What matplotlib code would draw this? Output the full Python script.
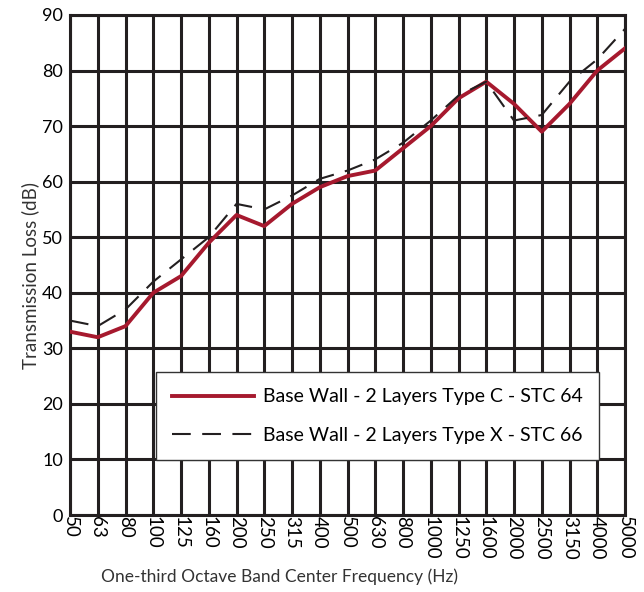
import matplotlib.pyplot as plt
import numpy as np

plt.rcParams['font.family'] = ['Lato', 'DejaVu Sans']

# one-third octave bands
freqs = ['50', '63', '80', '100', '125', '160', '200', '250', '315', '400', '500',
         '630', '800', '1000', '1250', '1600', '2000', '2500', '3150', '4000', '5000']

# transmission loss in dB
type_c = [33, 32, 34, 40, 43, 49, 54, 52, 56, 59, 61, 62, 66, 70, 75, 78, 74, 69, 74, 80, 84]
type_x = [35, 34, 37, 42, 46, 50, 56, 55, 57.5, 60.5, 62, 64, 67, 71, 75.5, 78, 71, 72, 78, 82, 87.5]

label_c = "Base Wall - 2 Layers Type C - STC 64"
label_x = "Base Wall - 2 Layers Type X - STC 66"

x = np.arange(len(freqs))

fig = plt.figure(figsize=(6.44, 5.92), dpi=100)
ax = fig.add_axes([0.1087, 0.130, 0.8618, 0.8447])

gridcol = '#231f20'
ax.plot(x, type_c, color='#a6192e', lw=2.8, label=label_c, zorder=3)
ax.plot(x, type_x, color=gridcol, lw=1.5, dashes=(9, 5.5), label=label_x, zorder=3)

ax.set_xlim(0, len(freqs) - 1)
ax.set_ylim(0, 90)
ax.set_xticks(x)
ax.set_xticklabels(freqs, rotation=270, fontsize=13.5)
ax.set_yticks(np.arange(0, 91, 10))
ax.tick_params(axis='y', labelsize=13, length=0, pad=5)
ax.tick_params(axis='x', length=0, pad=1)
ax.grid(True, color=gridcol, lw=2.2)
ax.set_axisbelow(True)
for s in ax.spines.values():
    s.set_color(gridcol)
    s.set_linewidth(2.2)

ax.set_xlabel("One-third Octave Band Center Frequency (Hz)", fontsize=12.5, color='#333333',
              labelpad=6, x=0.377)
ax.set_ylabel("Transmission Loss (dB)", fontsize=13.5, color='#333333', labelpad=2, y=0.48)

leg = ax.legend(loc='lower left', bbox_to_anchor=(0.137, 0.09), fontsize=14,
                handlelength=4.2, labelspacing=1.1, borderpad=0.85, handletextpad=0.45,
                fancybox=False, framealpha=1, edgecolor='#333333')
leg.get_frame().set_linewidth(1.0)
leg.set_zorder(5)

plt.savefig('out.png', dpi=100)
